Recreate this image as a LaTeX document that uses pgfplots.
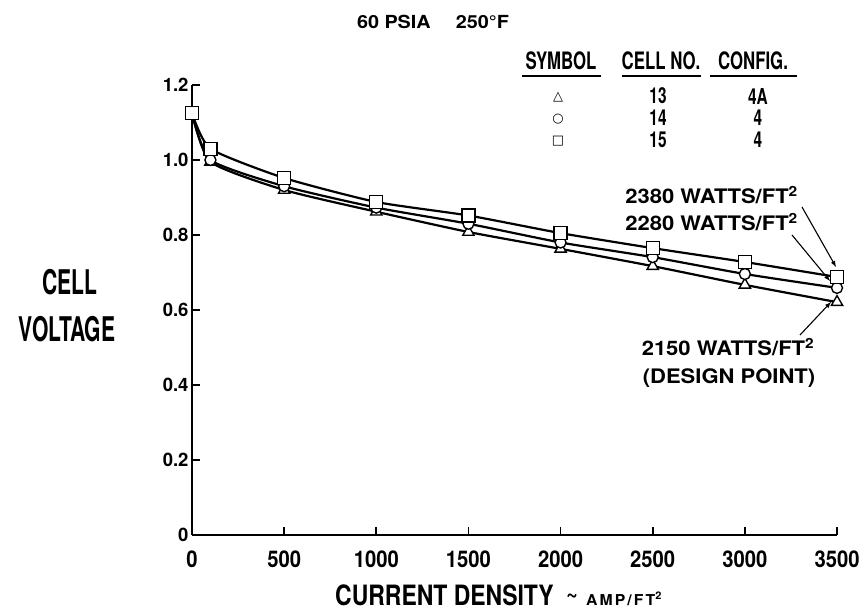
\documentclass[border=0pt]{standalone}
\usepackage{pgfplots}
\pgfplotsset{compat=1.18}
\usepackage{fontspec}
\setmainfont{TeX Gyre Heros}
\newfontfamily\cond{TeX Gyre Heros}[FakeStretch=0.7]
\newfontfamily\ylab{TeX Gyre Heros}[FakeStretch=0.62]
\newfontfamily\xlab{TeX Gyre Heros}[FakeStretch=0.82]
\newfontfamily\tickx{TeX Gyre Heros}[FakeStretch=0.88]
\newfontfamily\ticky{TeX Gyre Heros}[FakeStretch=1.0]
\newfontfamily\ext{TeX Gyre Heros}[FakeStretch=1.1]
\newfontfamily\amp{TeX Gyre Heros}[FakeStretch=1.05, LetterSpace=14]
\newfontfamily\sym{DejaVu Sans}
\begin{document}
\begin{tikzpicture}[x=1pt,y=1pt]
\path[use as bounding box] (0,0) rectangle (864,611);
\begin{axis}[
  at={(192pt,76pt)}, anchor=south west, scale only axis,
  width=645pt, height=450pt,
  xmin=0, xmax=3500, ymin=0, ymax=1.2,
  axis x line=bottom, axis y line=left,
  axis line style={line width=1.6pt, -},
  xtick={0,500,1000,1500,2000,2500,3000,3500},
  xticklabels={0,500,1000,1500,2000,2500,3000,3500},
  ytick={0,0.2,0.4,0.6,0.8,1.0,1.2},
  yticklabels={0,0.2,0.4,0.6,0.8,1.0,1.2},
  tick align=inside, major tick length=8pt,
  tick style={line width=1.6pt, black},
  /pgf/number format/assume math mode=true,
  xticklabel style={font=\tickx\bfseries\fontsize{23}{23}\selectfont, yshift=-12pt},
  yticklabel style={font=\ticky\bfseries\fontsize{18.5}{18.5}\selectfont},
  clip=false,
]
% Cell 13, config 4A (triangle)
\addplot[black, line width=2.2pt, smooth, tension=0.35, mark=triangle*, mark size=6.5pt,
  mark options={solid, fill=white, line width=1.4pt}] coordinates {
(0,1.125) (100,0.995) (500,0.92) (1000,0.862) (1500,0.808) (2000,0.763) (2500,0.717) (3000,0.667) (3500,0.621)};
% Cell 14, config 4 (circle)
\addplot[black, line width=2.2pt, smooth, tension=0.35, mark=*, mark size=5.5pt,
  mark options={solid, fill=white, line width=1.4pt}] coordinates {
(0,1.125) (100,1.0) (500,0.93) (1000,0.873) (1500,0.830) (2000,0.78) (2500,0.741) (3000,0.696) (3500,0.659)};
% Cell 15, config 4 (square)
\addplot[black, line width=2.2pt, smooth, tension=0.35, mark=square*, mark size=6.5pt,
  mark options={solid, fill=white, line width=1.4pt}] coordinates {
(0,1.125) (100,1.03) (500,0.952) (1000,0.888) (1500,0.852) (2000,0.805) (2500,0.765) (3000,0.728) (3500,0.688)};
\end{axis}
% title
\node[font=\ext\bfseries\fontsize{18}{18}\selectfont] at (433,589) {60 PSIA\hspace{1.4em}250\textdegree F};
% legend table
\begin{scope}[every node/.style={font=\cond\bfseries\fontsize{24}{24}\selectfont, inner sep=0pt}]
\node at (561,550) {SYMBOL};
\node at (661,550) {CELL NO.};
\node at (753,550) {CONFIG.};
\draw[line width=1.5pt] (522,535) -- (601,535);
\draw[line width=1.5pt] (622,535) -- (701,535);
\draw[line width=1.5pt] (710,535) -- (797,535);
\end{scope}
\begin{scope}[every node/.style={font=\cond\bfseries\fontsize{22}{22}\selectfont, inner sep=0pt}]
\node at (658,515) {13}; \node at (758,515) {4A};
\node at (658,493) {14}; \node at (758,493) {4};
\node at (658,471) {15}; \node at (758,471) {4};
\node[font=\sym\fontsize{13}{13}\selectfont] at (558,514) {△};
\node[font=\sym\fontsize{13}{13}\selectfont] at (558,492) {○};
\node[font=\sym\fontsize{13}{13}\selectfont] at (558,470) {□};
\end{scope}
% y label
\node[font=\ylab\bfseries\fontsize{34}{34}\selectfont] at (70,329) {CELL};
\node[font=\ylab\bfseries\fontsize{34}{34}\selectfont] at (67,282) {VOLTAGE};
% x label
\node[font=\xlab\bfseries\fontsize{28}{28}\selectfont, anchor=base west, inner sep=0pt] at (335,6)
  {CURRENT DENSITY\hspace{0.45em}\raisebox{0.2ex}{\fontsize{24}{24}\selectfont\~{}}\hspace{0.3em}{\amp\fontsize{15}{15}\selectfont AMP/FT\textsuperscript{2}}};
% annotations
\begin{scope}[every node/.style={font=\ext\bfseries\fontsize{20}{20}\selectfont, inner sep=0pt}]
\node[anchor=east] at (798,416) {2380 WATTS/FT\textsuperscript{2}};
\node[anchor=east] at (798,389) {2280 WATTS/FT\textsuperscript{2}};
\node at (728,264) {2150 WATTS/FT\textsuperscript{2}};
\node at (729,233) {(DESIGN POINT)};
\end{scope}
\draw[line width=1.1pt, -latex] (802,404) -- (836,344);
\draw[line width=1.1pt, -latex] (792,376) -- (830,330);
\draw[line width=1.1pt, -latex] (800,276) -- (831,309);
\end{tikzpicture}
\end{document}
